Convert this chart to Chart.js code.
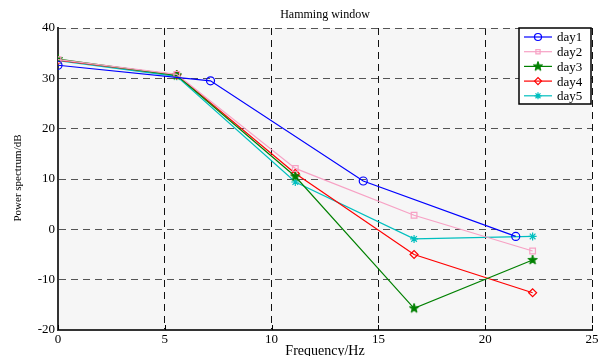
<!DOCTYPE html>
<html><head><meta charset="utf-8">
<script src="https://cdn.jsdelivr.net/npm/chart.js@4"></script>
<style>html,body{margin:0;padding:0;background:#fff}canvas{display:block}</style>
</head><body>
<canvas id="c" width="605" height="356"></canvas>
<script>
const xTicks = [0,5,10,15,20,25];
const yTicks = [-20,-10,0,10,20,30,40];
const freqDay1 = [0, 7.14, 14.29, 21.43];
const freqOther = [0, 5.56, 11.11, 16.67, 22.22];
const day1 = [32.6, 29.5, 9.6, -1.4];
const day2 = [33.7, 30.8, 12.1, 2.8, -4.3];
const day3 = [33.8, 30.6, 10.5, -15.7, -6.1];
const day4 = [33.6, 30.7, 11.1, -5.0, -12.6];
const day5 = [33.5, 30.4, 9.4, -1.9, -1.4];
const seriesNames = ['day1','day2','day3','day4','day5'];

function starImg(color, r){
  const c = document.createElement('canvas');
  const s = Math.ceil(r*2+2); c.width = s; c.height = s;
  const g = c.getContext('2d');
  g.fillStyle = color; g.strokeStyle = color; g.lineWidth = 1;
  g.beginPath();
  for (let i=0;i<10;i++){
    const a = -Math.PI/2 + i*Math.PI/5;
    const rr = i%2===0 ? r : r*0.4;
    const x = s/2 + rr*Math.cos(a), y = s/2 + rr*Math.sin(a);
    i===0 ? g.moveTo(x,y) : g.lineTo(x,y);
  }
  g.closePath(); g.fill(); g.stroke();
  return c;
}
const greenStar = starImg('#008000', 5);

function pts(xs, ys){ return xs.map((x,i)=>({x:x,y:ys[i]})); }

const datasets = [
  {label:'day1', data:pts(freqDay1,day1), borderColor:'#0000ff', pointStyle:'circle', pointRadius:4},
  {label:'day2', data:pts(freqOther,day2), borderColor:'#f7a1c4', pointStyle:'rect', pointRadius:4},
  {label:'day3', data:pts(freqOther,day3), borderColor:'#008000', pointStyle:greenStar, pointRadius:5},
  {label:'day4', data:pts(freqOther,day4), borderColor:'#ff0000', pointStyle:'rectRot', pointRadius:4},
  {label:'day5', data:pts(freqOther,day5), borderColor:'#00bfbf', pointStyle:'star', pointRadius:4}
].map(d=>Object.assign(d,{showLine:true, borderWidth:1.2, pointBorderWidth:1.2, pointBackgroundColor:'rgba(0,0,0,0)', pointBorderColor:d.borderColor, fill:false, tension:0}));

const serif = "'Liberation Serif','DejaVu Serif',serif";

const decor = {
  id:'decor',
  beforeDraw(chart){
    const {ctx, chartArea:a} = chart;
    ctx.save(); ctx.fillStyle='#f6f6f6';
    ctx.fillRect(a.left,a.top,a.right-a.left,a.bottom-a.top); ctx.restore();
  },
  afterDraw(chart){
    const {ctx, chartArea:a} = chart;
    const xs = chart.scales.x;
    ctx.save();
    // small inward tick marks on bottom axis
    ctx.strokeStyle='#000'; ctx.lineWidth=1;
    xTicks.forEach(v=>{ const px = Math.round(xs.getPixelForValue(v))+0.5;
      ctx.beginPath(); ctx.moveTo(px,a.bottom); ctx.lineTo(px,a.bottom-5); ctx.stroke(); });
    ctx.fillStyle='#000';
    ctx.font = "12px " + serif; ctx.textAlign='center'; ctx.textBaseline='middle';
    ctx.fillText('Hamming window', (a.left+a.right)/2, 15);
    ctx.font = "14px " + serif;
    ctx.fillText('Frequency/Hz', (a.left+a.right)/2, 351);
    ctx.save(); ctx.translate(18, 178); ctx.rotate(-Math.PI/2);
    ctx.font = "11px " + serif; ctx.fillText('Power spectrum/dB', 0, 0); ctx.restore();
    // legend
    const lx=519, ly=28, lw=72, lh=76;
    ctx.setLineDash([]);
    ctx.fillStyle='#fff'; ctx.fillRect(lx,ly,lw,lh);
    ctx.strokeStyle='#000'; ctx.lineWidth=1.5; ctx.strokeRect(lx,ly,lw,lh);
    chart.data.datasets.forEach((d,i)=>{
      const y = 37 + i*14.7;
      ctx.strokeStyle=d.borderColor; ctx.lineWidth=1.2;
      ctx.beginPath(); ctx.moveTo(524,y); ctx.lineTo(552,y); ctx.stroke();
      ctx.fillStyle='rgba(0,0,0,0)'; ctx.strokeStyle=d.borderColor;
      const r = i===1 ? 3 : d.pointRadius-0.5;
      Chart.helpers.drawPoint(ctx, {pointStyle:d.pointStyle, radius:r, borderWidth:1.2, rotation:0}, 538, y);
      ctx.fillStyle='#000'; ctx.textAlign='left'; ctx.font="13px "+serif;
      ctx.fillText(seriesNames[i], 557, y+1);
    });
    ctx.restore();
  }
};

new Chart(document.getElementById('c'), {
  type:'scatter',
  data:{datasets},
  options:{
    responsive:false, animation:false,
    layout:{padding:{top:28,right:13,left:0,bottom:0}},
    plugins:{legend:{display:false}, title:{display:false}, tooltip:{enabled:false}},
    scales:{
      x:{type:'linear', min:0, max:25,
        afterBuildTicks(s){ s.ticks = xTicks.map(v=>({value:v})); },
        afterFit(s){ s.height = 26; },
        grid:{color:'#111', drawTicks:false, lineWidth:1},
        border:{display:true, color:'#333', width:2, dash:[7,5]},
        ticks:{font:{family:serif,size:13}, color:'#000', padding:2, maxRotation:0}
      },
      y:{type:'linear', min:-20, max:40,
        afterBuildTicks(s){ s.ticks = yTicks.map(v=>({value:v})); },
        afterFit(s){ s.width = 58; },
        grid:{color:'#555', drawTicks:false, lineWidth:1},
        border:{display:true, color:'#333', width:2, dash:[7,5]},
        ticks:{font:{family:serif,size:13}, color:'#000', padding:3}
      }
    }
  },
  plugins:[decor]
});
</script>
</body></html>
